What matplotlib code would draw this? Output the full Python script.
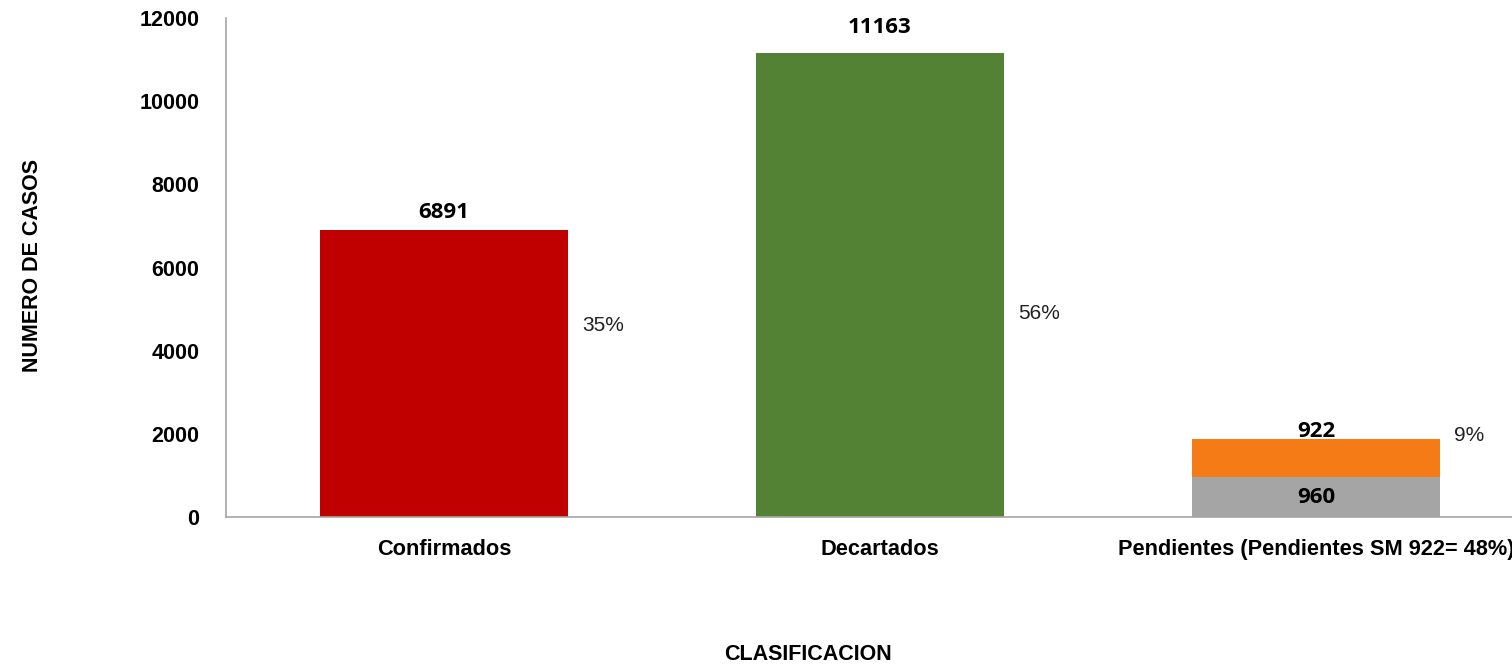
import matplotlib
matplotlib.use("Agg")
import matplotlib.pyplot as plt
from matplotlib import font_manager

categories = ["Confirmados", "Decartados", "Pendientes (Pendientes SM 922= 48%)"]
main_values = [6891, 11163, 960]
stack_values = [0, 0, 922]
pct_labels = ["35%", "56%", "9%"]
pct_y = [4600, 4900, 1970]
bar_colors = ["#C00000", "#548235", "#A5A5A5"]
stack_color = "#F47B16"
yticks = [0, 2000, 4000, 6000, 8000, 10000, 12000]

names = {f.name for f in font_manager.fontManager.ttflist}
narrow = "Liberation Sans Narrow" if "Liberation Sans Narrow" in names else "Liberation Sans"
label_font = "Open Sans"

fig = plt.figure(figsize=(15.12, 6.68), dpi=100)
ax = fig.add_axes([226 / 1512, 1 - 517 / 668, (1534 - 226) / 1512, (517 - 18) / 668])

x = list(range(len(categories)))
width = 0.571
ax.bar(x, main_values, width=width, color=bar_colors, zorder=2)
ax.bar(x, stack_values, width=width, bottom=main_values, color=stack_color, zorder=2)

ax.set_xlim(-0.5, 2.5)
ax.set_ylim(0, 12000)
ax.set_yticks(yticks)
ax.set_yticklabels([str(v) for v in yticks], fontfamily=narrow, fontweight="bold", fontsize=15.5)
ax.set_xticks(x)
ax.set_xticklabels(categories, fontfamily=narrow, fontweight="bold", fontsize=15.7)
ax.tick_params(axis="y", length=0, pad=19)
ax.tick_params(axis="x", length=0, pad=16)

for s in ["top", "right"]:
    ax.spines[s].set_visible(False)
for s in ["left", "bottom"]:
    ax.spines[s].set_color("#A6A6A6")
    ax.spines[s].set_linewidth(1.2)

# value labels
ax.annotate(str(main_values[0]), (x[0], main_values[0]), xytext=(0, 13), textcoords="offset points",
            ha="center", va="center", fontsize=16, fontweight="bold", fontfamily=label_font)
ax.annotate(str(main_values[1]), (x[1], main_values[1]), xytext=(0, 18), textcoords="offset points",
            ha="center", va="center", fontsize=16, fontweight="bold", fontfamily=label_font)
ax.annotate(str(main_values[2]), (x[2], main_values[2] / 2), ha="center", va="center",
            fontsize=16, fontweight="bold", fontfamily=label_font)
ax.annotate(str(stack_values[2]), (x[2], main_values[2] + stack_values[2]), xytext=(0, 5),
            textcoords="offset points", ha="center", va="center",
            fontsize=16, fontweight="bold", fontfamily=label_font)

for i, (lab, yv) in enumerate(zip(pct_labels, pct_y)):
    ax.text(x[i] + width / 2 + 0.032, yv, lab, ha="left", va="center",
            fontsize=15, fontfamily=narrow, color="#222222")

fig.text(33 / 1512, 1 - 265 / 668, "NUMERO DE CASOS", rotation=90, ha="center", va="center",
         fontsize=15.5, fontweight="bold", fontfamily=narrow)
fig.text(808 / 1512, 1 - 655 / 668, "CLASIFICACION", ha="center", va="center",
         fontsize=15.5, fontweight="bold", fontfamily=narrow)

fig.savefig("out.png", dpi=100)
